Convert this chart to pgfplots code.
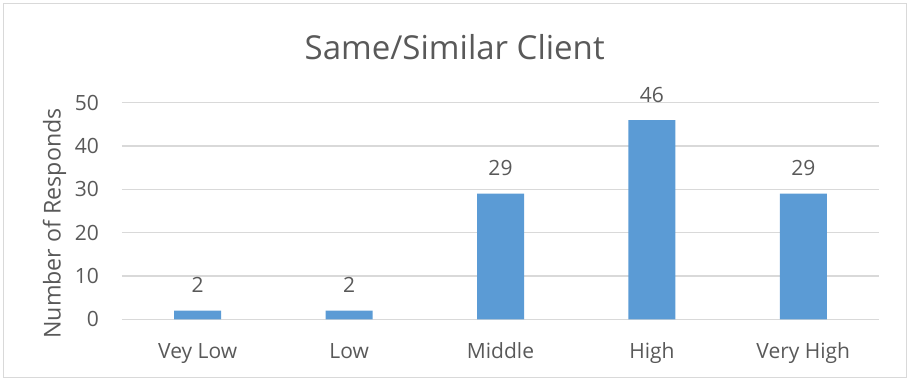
\documentclass[border=0pt]{standalone}
\usepackage{fontspec}
\setmainfont{Open Sans}
\usepackage{pgfplots}
\pgfplotsset{compat=1.18}
\definecolor{barblue}{HTML}{5B9BD5}
\definecolor{txtgray}{HTML}{595959}
\definecolor{gridgray}{HTML}{D9D9D9}

\begin{document}
\begin{tikzpicture}
  % the plot area starts at the origin; the chart area is placed around it
  \begin{axis}[
    scale only axis, width=757pt, height=216.6pt,
    xmin=-0.5, xmax=4.5, ymin=0, ymax=50,
    ytick={0,10,...,50}, xtick={0,...,4},
    xticklabels={Vey Low, Low, Middle, High, Very High},
    axis line style={draw=none},
    major tick length=0pt,
    ymajorgrids, grid style={gridgray, line width=1.2pt},
    /pgf/number format/assume math mode=true,
    tick label style={font=\fontsize{21}{25}\selectfont, text=txtgray},
    yticklabel style={anchor=east, inner sep=0pt, xshift=-23pt},
    xticklabel style={anchor=base, inner sep=0pt, yshift=-39pt},
    ybar, bar width=47pt,
    nodes near coords,
    every node near coord/.append style={font=\fontsize{21}{25}\selectfont, text=txtgray, anchor=base, inner sep=0pt, yshift=17.7pt},
  ]
    \addplot[fill=barblue, draw=none] coordinates {(0,2) (1,2) (2,29) (3,46) (4,29)};
  \end{axis}

  \begin{scope}[x=1pt, y=1pt, shift={(-122pt,-61.7pt)}]
    % page extent and chart-area frame
    \path (0,0) rectangle (910,381);
    \draw[gridgray, line width=1pt] (3.5,3.5) rectangle (906.5,377.5);
    % chart title and value-axis title
    \node[anchor=base, text=txtgray, font=\fontsize{33}{40}\selectfont] at (454.7,321) {Same/Similar Client};
    \node[rotate=90, anchor=base, text=txtgray, font=\fontsize{23.2}{28}\selectfont] at (60.7,157.5) {Number of Responds};
  \end{scope}
\end{tikzpicture}
\end{document}
